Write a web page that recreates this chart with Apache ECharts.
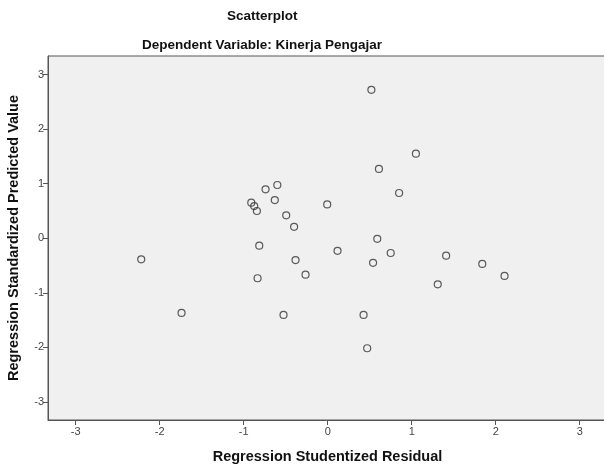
<!DOCTYPE html>
<html><head><meta charset="utf-8">
<script src="https://cdn.jsdelivr.net/npm/echarts@6/dist/echarts.min.js"></script>
<style>html,body{margin:0;padding:0;background:#fff}#c{width:604px;height:467px}</style>
</head><body><div id="c"></div>
<script>
const residual = [-2.22, -1.74, 0.52, 1.05, 0.61, 0.85, -0.60, -0.74, -0.63, -0.91, -0.875, -0.843, -0.494, -0.40, -0.006, -0.815, 0.59, 0.117, 0.75, -0.383, 0.54, -0.264, -0.835, -0.526, 0.427, 0.47, 1.41, 1.84, 2.105, 1.31];
const predicted = [-0.385, -1.368, 2.72, 1.55, 1.27, 0.83, 0.976, 0.897, 0.70, 0.652, 0.59, 0.50, 0.42, 0.21, 0.62, -0.135, -0.01, -0.23, -0.27, -0.40, -0.45, -0.667, -0.733, -1.405, -1.405, -2.015, -0.318, -0.47, -0.69, -0.843];
const tickValues = [-3, -2, -1, 0, 1, 2, 3];
const data = residual.map((x, i) => [x, predicted[i]]);
const ff = '"Liberation Sans", Arial, sans-serif';
const chart = echarts.init(document.getElementById('c'), null, {renderer: 'canvas'});
chart.setOption({
  animation: false,
  title: [
    {text: 'Scatterplot', left: 222, top: 4, textStyle: {fontFamily: ff, fontSize: 13.5, fontWeight: 'bold', color: '#111'}},
    {text: 'Dependent Variable: Kinerja Pengajar', left: 137, top: 33, textStyle: {fontFamily: ff, fontSize: 13.5, fontWeight: 'bold', color: '#111'}}
  ],
  grid: {left: 48, right: -3, top: 56, bottom: 47, show: true, backgroundColor: '#f0f0f0', borderColor: '#555', borderWidth: 1, containLabel: false, outerBoundsMode: 'none'},
  xAxis: {
    type: 'value', min: -3.33, max: 3.325,
    name: 'Regression Studentized Residual', nameLocation: 'middle', nameGap: 29,
    nameTextStyle: {fontFamily: ff, fontSize: 14.5, fontWeight: 'bold', color: '#111'},
    axisLine: {show: true, onZero: false, lineStyle: {color: '#555'}},
    axisTick: {show: true, length: 5, lineStyle: {color: '#555'}, customValues: tickValues},
    axisLabel: {customValues: tickValues, fontFamily: ff, fontSize: 11, color: '#444', margin: 6},
    splitLine: {show: false}
  },
  yAxis: {
    type: 'value', min: -3.33, max: 3.34,
    name: 'Regression Standardized Predicted Value', nameLocation: 'middle', nameGap: 27, nameRotate: 90,
    nameTextStyle: {fontFamily: ff, fontSize: 14.5, fontWeight: 'bold', color: '#111'},
    axisLine: {show: true, onZero: false, lineStyle: {color: '#555'}},
    axisTick: {show: true, length: 5, lineStyle: {color: '#555'}, customValues: tickValues},
    axisLabel: {customValues: tickValues, fontFamily: ff, fontSize: 11, color: '#444', margin: 4},
    splitLine: {show: false}
  },
  series: [{
    type: 'scatter', data: data, symbol: 'circle', symbolSize: 7,
    itemStyle: {color: 'rgba(0,0,0,0)', borderColor: '#333', borderWidth: 1.2}
  }]
});
</script></body></html>
